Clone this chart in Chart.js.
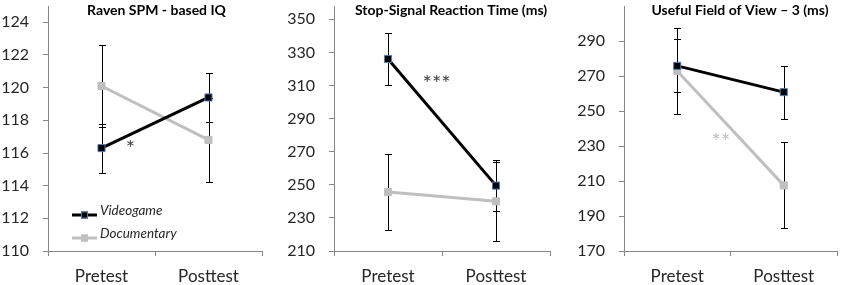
<!DOCTYPE html>
<html>
<head>
<meta charset="utf-8">
<script src="https://cdn.jsdelivr.net/npm/chart.js@4.4.0/dist/chart.umd.min.js"></script>
<style>
  body { margin: 0; background: #fff; width: 843px; height: 285px; overflow: hidden; position: relative; }
  .panel { position: absolute; top: 0; height: 285px; }
</style>
</head>
<body>
<div class="panel" style="left:0;width:268px"><canvas id="raven"></canvas></div>
<div class="panel" style="left:280px;width:282px"><canvas id="ssrt"></canvas></div>
<div class="panel" style="left:562px;width:281px"><canvas id="ufov"></canvas></div>
<script>
// categories and series
const categories = ['Pretest', 'Posttest'];
const seriesNames = ['Videogame', 'Documentary'];

// Raven SPM - based IQ
const ravenVideogame = [116.3, 119.4];
const ravenVideogameErr = [1.5, 1.5];
const ravenDocumentary = [120.1, 116.8];
const ravenDocumentaryErr = [2.5, 2.55];
const ravenTicks = [110, 112, 114, 116, 118, 120, 122, 124];

// Stop-Signal Reaction Time (ms)
const ssrtVideogame = [326, 249.5];
const ssrtVideogameErr = [15.5, 15.6];
const ssrtDocumentary = [245.6, 240];
const ssrtDocumentaryErr = [23.2, 23.7];
const ssrtTicks = [210, 230, 250, 270, 290, 310, 330, 350];

// Useful Field of View - 3 (ms)
const ufovVideogame = [275.8, 260.8];
const ufovVideogameErr = [15.2, 15.1];
const ufovDocumentary = [272.9, 207.5];
const ufovDocumentaryErr = [24.7, 24.6];
const ufovTicks = [170, 190, 210, 230, 250, 270, 290];

const FONT = 'Lato';
const AXIS = '#868686';
const GRAY = '#bfbfbf';
const TEXT = '#262626';

// error bars, title, significance stars and legend
const extras = {
  id: 'extras',
  beforeDatasetsDraw(chart) {
    const ctx = chart.ctx, xs = chart.scales.x, ys = chart.scales.y;
    ctx.save();
    ctx.strokeStyle = '#000';
    ctx.lineWidth = 1;
    chart.data.datasets.forEach(ds => {
      ds.data.forEach((v, i) => {
        const e = ds.errors[i];
        const px = Math.round(xs.getPixelForValue(i)) + 0.5;
        const top = Math.round(ys.getPixelForValue(v + e)) + 0.5;
        const bot = Math.round(ys.getPixelForValue(v - e)) + 0.5;
        ctx.beginPath();
        ctx.moveTo(px, top); ctx.lineTo(px, bot);
        ctx.moveTo(px - 3.5, top); ctx.lineTo(px + 3.5, top);
        ctx.moveTo(px - 3.5, bot); ctx.lineTo(px + 3.5, bot);
        ctx.stroke();
      });
    });
    ctx.restore();
  },
  afterDraw(chart, args, opts) {
    const ctx = chart.ctx, xs = chart.scales.x, ys = chart.scales.y;
    const area = chart.chartArea;
    ctx.save();
    ctx.fillStyle = '#000';
    ctx.font = 'bold 14px ' + FONT;
    ctx.textAlign = 'center';
    ctx.textBaseline = 'middle';
    ctx.fillText(opts.title, (area.left + area.right) / 2 + opts.titleDx, 10);

    (opts.notes || []).forEach(n => {
      ctx.font = '22px ' + FONT;
      ctx.fillStyle = n.color;
      ctx.textBaseline = 'alphabetic';
      ctx.fillText(n.text, xs.getPixelForValue(n.at), ys.getPixelForValue(n.value) + 12);
    });

    if (opts.legend) {
      chart.data.datasets.forEach((ds, k) => {
        const y = 215 + k * 23;
        ctx.strokeStyle = ds.borderColor;
        ctx.lineWidth = 3;
        ctx.beginPath(); ctx.moveTo(72, y); ctx.lineTo(97, y); ctx.stroke();
        ctx.fillStyle = ds.pointBackgroundColor;
        ctx.fillRect(81, y - 3.5, 7, 7);
        ctx.strokeStyle = ds.pointBorderColor;
        ctx.lineWidth = 1;
        ctx.strokeRect(81.5, y - 3, 6, 6);
        ctx.fillStyle = TEXT;
        ctx.font = 'italic 13.5px ' + FONT;
        ctx.textAlign = 'left';
        ctx.fillText(ds.label, 100, y);
      });
    }
    ctx.restore();
  }
};

function makePanel(id, vg, vgErr, doc, docErr, ticks, max, yWidth, rightPad, topPad, extraOpts) {
  return new Chart(document.getElementById(id), {
    type: 'line',
    data: {
      labels: categories,
      datasets: [{
        label: seriesNames[0],
        data: vg,
        errors: vgErr,
        borderColor: '#000',
        borderWidth: 3,
        pointStyle: 'rect',
        pointRadius: 5,
        pointBackgroundColor: '#000',
        pointBorderColor: '#4a7ebb',
        pointBorderWidth: 1
      }, {
        label: seriesNames[1],
        data: doc,
        errors: docErr,
        borderColor: GRAY,
        borderWidth: 3,
        pointStyle: 'rect',
        pointRadius: 5,
        pointBackgroundColor: GRAY,
        pointBorderColor: GRAY,
        pointBorderWidth: 1
      }]
    },
    options: {
      responsive: true,
      maintainAspectRatio: false,
      animation: false,
      layout: { padding: { left: 0, right: rightPad, top: topPad, bottom: 0 } },
      plugins: {
        legend: { display: false },
        tooltip: { enabled: false },
        extras: extraOpts
      },
      scales: {
        x: {
          offset: true,
          border: { color: AXIS },
          grid: { drawOnChartArea: false, offset: true, tickLength: 5, color: AXIS },
          ticks: { padding: 10, color: TEXT, font: { family: FONT, size: 17 } },
          afterFit: s => { s.height = 34; s.paddingLeft = 0; s.paddingRight = 0; }
        },
        y: {
          min: ticks[0],
          max: max,
          border: { color: AXIS },
          grid: { drawOnChartArea: false, tickLength: 5, color: AXIS },
          ticks: { padding: 14, color: TEXT, font: { family: FONT, size: 16 } },
          afterBuildTicks: s => { s.ticks = ticks.map(v => ({ value: v })); },
          afterFit: s => { s.width = yWidth; s.paddingTop = 0; s.paddingBottom = 0; }
        }
      }
    },
    plugins: [extras]
  });
}

makePanel('raven', ravenVideogame, ravenVideogameErr, ravenDocumentary, ravenDocumentaryErr,
  ravenTicks, 125, 48, 3, 4, {
    title: 'Raven SPM - based IQ', titleDx: 1.5, legend: true,
    notes: [{ text: '*', at: 0.27, value: 116.55, color: '#444' }]
  });

makePanel('ssrt', ssrtVideogame, ssrtVideogameErr, ssrtDocumentary, ssrtDocumentaryErr,
  ssrtTicks, 358, 54, 12, 4, {
    title: 'Stop-Signal Reaction Time (ms)', titleDx: 9,
    notes: [{ text: '***', at: 0.45, value: 314, color: '#444' }]
  });

makePanel('ufov', ufovVideogame, ufovVideogameErr, ufovDocumentary, ufovDocumentaryErr,
  ufovTicks, 310, 62, 2, 5, {
    title: 'Useful Field of View \u2013 3 (ms)', titleDx: 9.5,
    notes: [{ text: '**', at: 0.41, value: 235, color: GRAY }]
  });
</script>
</body>
</html>
